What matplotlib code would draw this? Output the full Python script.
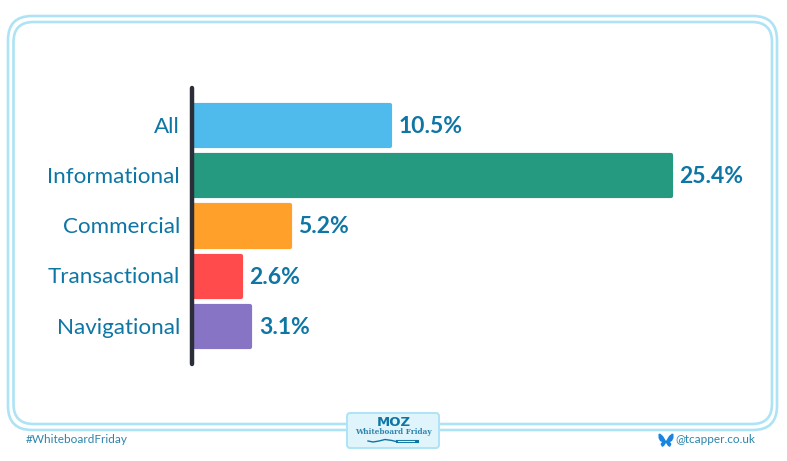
import numpy as np
import matplotlib
matplotlib.use('Agg')
import matplotlib.pyplot as plt
from matplotlib.patches import FancyBboxPatch, Polygon
from matplotlib.transforms import ScaledTranslation

categories = ['All', 'Informational', 'Commercial', 'Transactional', 'Navigational']
values = [10.5, 25.4, 5.2, 2.6, 3.1]
bar_colours = ['#4fbbec', '#259a80', '#ffa02b', '#ff4b4b', '#8874c4']
footer_left = '#WhiteboardFriday'
footer_right = '@tcapper.co.uk'
logo_top = 'MOZ'
logo_bottom = 'Whiteboard Friday'

W, H = 787, 461
text_blue = '#0e76a4'
frame_blue = '#aee3f5'

plt.rcParams['font.family'] = ['Lato', 'DejaVu Sans']

fig = plt.figure(figsize=(W/100, H/100), dpi=100, facecolor='white')

# background layer in pixel coordinates, for the frame and footer
bg = fig.add_axes([0, 0, 1, 1])
bg.set_xlim(0, W)
bg.set_ylim(H, 0)
bg.axis('off')

def roundbox(x0, y0, x1, y1, r, fc='none', ec=frame_blue, lw=1.6, z=1):
    p = FancyBboxPatch((x0+r, y0+r), x1-x0-2*r, y1-y0-2*r, boxstyle='round,pad=%f,rounding_size=%f' % (r, r),
                       fc=fc, ec=ec, lw=lw, zorder=z)
    bg.add_patch(p)

roundbox(8, 16, 777, 430, 24, lw=1.9)
roundbox(13.5, 22, 772, 424, 20, lw=1.9)

# logo box sits on top of the frame
roundbox(347, 413, 439, 448, 3, fc='#e0f4fc', lw=1.4, z=3)
bg.text(393.5, 422.5, logo_top, color='#0e76a4', fontsize=9.5, fontweight='bold', family='DejaVu Sans', ha='center', va='center', zorder=4)
bg.text(393.5, 432, logo_bottom, color='#2d85ad', fontsize=5.35, fontweight='bold', family='DejaVu Serif', ha='center', va='center', zorder=4)
bg.plot([368, 373, 379, 385, 392, 396], [441, 442, 441, 439.5, 440.5, 441.5], color='#0e76a4', lw=1, zorder=4)
bg.plot([397, 417], [441, 441], color='#0e76a4', lw=2.2, zorder=4)
bg.plot([398, 414], [441, 441], color='#e0f4fc', lw=0.8, zorder=5)

bg.text(26, 439, footer_left, color='#2d85ad', fontsize=8.5, ha='left', va='center')
bg.text(675.5, 439, footer_right, color='#2d85ad', fontsize=8.5, ha='left', va='center')

# butterfly icon
wing = [(0, 441), (3, 436), (6, 433.5), (7.5, 434), (7.5, 438), (6, 441), (4, 442), (5.5, 444), (4, 447), (2, 446), (0, 443)]
for side in (-1, 1):
    bg.add_patch(Polygon([(666+side*a, b) for a, b in wing], closed=True, fc='#1a85e0', ec='none', zorder=3))

# chart axes, placed so rows land on the same pixels as the reference
left, right, top, bottom = 192, 760, 88, 364
ax = fig.add_axes([left/W, 1-bottom/H, (right-left)/W, (bottom-top)/H])
ax.patch.set_alpha(0)
unit = 18.86
row = 50.25
ax.set_xlim(0, (right-left)/unit)
ax.set_ylim((bottom-125.5)/row, (top-125.5)/row)

y = np.arange(len(categories))
# thick edge with round joins gives the rounded bar corners
ax.barh(y, values, height=0.82, color=bar_colours, edgecolor=bar_colours, linewidth=3, joinstyle='round', zorder=2)
ax.set_yticks(y, categories)
ax.set_xticks([])
ax.tick_params(axis='y', length=0, pad=8.5, labelsize=16.1, labelcolor=text_blue)
nudge = ScaledTranslation(0, 1/100, fig.dpi_scale_trans)
for lab in ax.get_yticklabels():
    lab.set_transform(lab.get_transform() + nudge)

for s in ['top', 'right', 'bottom']:
    ax.spines[s].set_visible(False)
ax.spines['left'].set_linewidth(3.2)
ax.spines['left'].set_color('#2b2d38')
ax.spines['left'].set_capstyle('round')
ax.spines['left'].set_zorder(3)

for i in range(len(values)):
    ax.annotate('%.1f%%' % values[i], (values[i], i), xytext=(6, -0.7), textcoords='offset points',
                color=text_blue, fontsize=16.5, fontweight='bold', ha='left', va='center')

fig.savefig('out.png', dpi=100)
